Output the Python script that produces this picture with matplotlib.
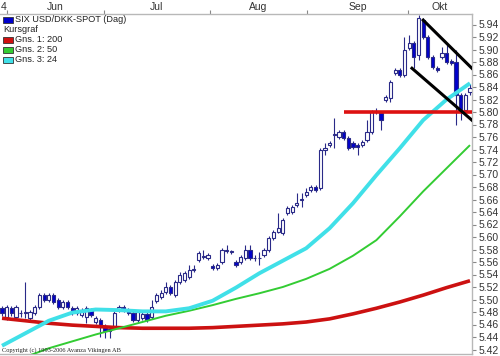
import matplotlib
matplotlib.use("Agg")
import matplotlib.pyplot as plt
from matplotlib.patches import Rectangle
import numpy as np

# ---------------- data ----------------
opens = [5.486, 5.472, 5.486, 5.472, 5.478, 5.478, 5.470, 5.478, 5.488, 5.507,
         5.499, 5.507, 5.499, 5.488, 5.496, 5.486, 5.478, 5.475, 5.472, 5.483,
         5.464, 5.467, 5.458, 5.450, 5.456, 5.483, 5.488, 5.483, 5.478, 5.467,
         5.470, 5.477, 5.472, 5.498, 5.504, 5.512, 5.520, 5.507, 5.528, 5.531,
         5.536, 5.547, 5.563, 5.568, 5.566, 5.554, 5.550, 5.560, 5.578, 5.576,
         5.560, 5.560, 5.566, 5.579, 5.566, 5.566, 5.571, 5.579, 5.598, 5.608,
         5.606, 5.638, 5.640, 5.651, 5.659, 5.667, 5.675, 5.680, 5.678, 5.739,
         5.747, 5.763, 5.760, 5.768, 5.758, 5.750, 5.747, 5.747, 5.755, 5.768,
         5.800, 5.798, 5.819, 5.822, 5.862, 5.867, 5.859, 5.902, 5.910, 5.891,
         5.947, 5.920, 5.888, 5.870, 5.888, 5.894, 5.882, 5.880, 5.827, 5.803,
         5.832]
closes = [5.478, 5.488, 5.478, 5.488, 5.478, 5.480, 5.480, 5.488, 5.507, 5.499,
          5.507, 5.496, 5.488, 5.496, 5.488, 5.478, 5.486, 5.483, 5.486, 5.475,
          5.470, 5.456, 5.450, 5.453, 5.478, 5.488, 5.483, 5.478, 5.467, 5.480,
          5.477, 5.467, 5.488, 5.507, 5.510, 5.520, 5.510, 5.528, 5.539, 5.542,
          5.547, 5.549, 5.574, 5.570, 5.571, 5.550, 5.555, 5.579, 5.579, 5.576,
          5.555, 5.568, 5.579, 5.566, 5.567, 5.567, 5.579, 5.598, 5.608, 5.614,
          5.627, 5.646, 5.648, 5.654, 5.661, 5.672, 5.680, 5.675, 5.739, 5.742,
          5.750, 5.763, 5.768, 5.758, 5.742, 5.744, 5.744, 5.752, 5.768, 5.800,
          5.802, 5.787, 5.824, 5.848, 5.867, 5.859, 5.899, 5.910, 5.888, 5.950,
          5.920, 5.888, 5.872, 5.867, 5.894, 5.880, 5.878, 5.827, 5.803, 5.827,
          5.838]
highs = [5.490, 5.492, 5.490, 5.491, 5.484, 5.528, 5.483, 5.491, 5.510, 5.510,
         5.510, 5.510, 5.502, 5.499, 5.499, 5.490, 5.490, 5.486, 5.489, 5.486,
         5.474, 5.470, 5.461, 5.456, 5.481, 5.491, 5.491, 5.486, 5.481, 5.483,
         5.480, 5.480, 5.499, 5.510, 5.515, 5.528, 5.523, 5.531, 5.544, 5.546,
         5.555, 5.555, 5.577, 5.579, 5.574, 5.557, 5.558, 5.582, 5.587, 5.579,
         5.563, 5.571, 5.587, 5.587, 5.571, 5.576, 5.582, 5.601, 5.611, 5.638,
         5.630, 5.649, 5.651, 5.670, 5.670, 5.678, 5.683, 5.683, 5.742, 5.750,
         5.753, 5.790, 5.771, 5.771, 5.761, 5.753, 5.750, 5.755, 5.787, 5.803,
         5.806, 5.801, 5.827, 5.851, 5.870, 5.870, 5.920, 5.923, 5.913, 5.955,
         5.950, 5.923, 5.891, 5.873, 5.904, 5.910, 5.885, 5.899, 5.830, 5.830,
         5.845]
lows = [5.474, 5.468, 5.474, 5.469, 5.472, 5.470, 5.466, 5.475, 5.485, 5.496,
        5.496, 5.493, 5.485, 5.485, 5.485, 5.475, 5.475, 5.472, 5.462, 5.472,
        5.461, 5.440, 5.438, 5.438, 5.453, 5.480, 5.480, 5.475, 5.464, 5.464,
        5.467, 5.464, 5.469, 5.495, 5.501, 5.509, 5.507, 5.504, 5.525, 5.528,
        5.533, 5.544, 5.560, 5.565, 5.563, 5.547, 5.547, 5.557, 5.575, 5.573,
        5.552, 5.557, 5.563, 5.563, 5.562, 5.555, 5.568, 5.576, 5.595, 5.606,
        5.603, 5.635, 5.637, 5.648, 5.648, 5.664, 5.672, 5.672, 5.675, 5.731,
        5.744, 5.742, 5.757, 5.755, 5.739, 5.741, 5.731, 5.744, 5.752, 5.765,
        5.797, 5.771, 5.816, 5.816, 5.859, 5.856, 5.856, 5.899, 5.870, 5.883,
        5.917, 5.885, 5.869, 5.864, 5.885, 5.877, 5.875, 5.780, 5.787, 5.800,
        5.827]

# moving averages, sampled every 5 trading days
ma_days = list(range(0, 101, 5))
ma200 = [5.470, 5.466, 5.462, 5.459, 5.457, 5.455, 5.454, 5.454, 5.454, 5.455,
         5.457, 5.459, 5.461, 5.464, 5.469, 5.477, 5.486, 5.496, 5.507, 5.519, 5.530]
ma50 = [5.395, 5.408, 5.422, 5.433, 5.444, 5.454, 5.464, 5.474, 5.482, 5.491,
        5.501, 5.510, 5.520, 5.533, 5.549, 5.570, 5.595, 5.633, 5.673, 5.710, 5.747]
ma24 = [5.426, 5.446, 5.466, 5.479, 5.484, 5.483, 5.481, 5.481, 5.486, 5.498,
        5.519, 5.542, 5.562, 5.582, 5.614, 5.654, 5.699, 5.742, 5.787, 5.820, 5.846]

support_level = 5.80
support_start = 73

chan_upper_days = [90.0, 100.4]
chan_upper = [5.947, 5.870]
chan_lower_days = [87.6, 100.4]
chan_lower = [5.870, 5.787]

month_bounds = [1.07, 21.8, 44.4, 65.2, 86.8]
month_labels = ["4", "Jun", "Jul", "Aug", "Sep", "Okt"]
y_ticks = [round(5.42 + 0.02 * k, 2) for k in range(27)]

legend_items = [("SIX USD/DKK-SPOT (Dag)", "#0000cc"),
                ("Kursgraf", None),
                ("Gns. 1: 200", "#d01010"),
                ("Gns. 2: 50", "#33cc33"),
                ("Gns. 3: 24", "#40e0e8")]

# ---------------- figure ----------------
W, H = 500, 356
fig = plt.figure(figsize=(W / 100, H / 100), dpi=100)
ax = fig.add_axes([0, 2 / H, 472 / W, (354 - 14) / H])
xlim = (-0.43, 100.43)
ax.set_xlim(*xlim)
ax.set_ylim(5.4128, 5.9568)

font = "Liberation Sans"
edge = "#2a2a88"
days = np.arange(len(opens))
o = np.array(opens); c = np.array(closes)
hi = np.array(highs); lo = np.array(lows)
up = c >= o
ax.vlines(days, lo, hi, color=edge, lw=0.8, zorder=2)
bottoms = np.minimum(o, c)
heights = np.maximum(np.abs(c - o), 0.0012)
ax.bar(days[up], heights[up], bottom=bottoms[up], width=0.68,
       facecolor="white", edgecolor=edge, linewidth=0.8, zorder=3)
ax.bar(days[~up], heights[~up], bottom=bottoms[~up], width=0.68,
       facecolor="#0000cc", edgecolor=edge, linewidth=0.8, zorder=3)

kw = dict(solid_joinstyle="round", solid_capstyle="butt", zorder=4)
ax.plot(ma_days, ma200, color="#cc1111", lw=2.6, **kw)
ax.plot(ma_days, ma50, color="#33cc33", lw=1.4, **kw)
ax.plot(ma_days, ma24, color="#40e0e8", lw=2.8, **kw)
ax.plot([support_start, xlim[1]], [support_level, support_level],
        color="#dd1111", lw=2.6, zorder=5, solid_capstyle="butt")
ax.plot(chan_upper_days, chan_upper, color="black", lw=2.2, zorder=6)
ax.plot(chan_lower_days, chan_lower, color="black", lw=2.2, zorder=6)

# axes styling
ax.spines["left"].set_visible(False)
for s in ["top", "right", "bottom"]:
    ax.spines[s].set_color("#b8b8b8")
    ax.spines[s].set_linewidth(1.0)

ax.yaxis.tick_right()
ax.set_yticks(y_ticks)
ax.set_yticklabels([f"{v:.2f}" for v in y_ticks], fontsize=7.5,
                   fontfamily=font, color="#333333")
ax.tick_params(axis="y", length=3, width=0.8, color="#888888", pad=2)

ax.xaxis.tick_top()
ax.set_xticks(month_bounds)
ax.set_xticklabels([])
ax.tick_params(axis="x", which="major", length=3, width=0.8, color="#888888")
edges = [xlim[0]] + month_bounds + [xlim[1]]
mids = [(edges[k] + edges[k + 1]) / 2 for k in range(len(edges) - 1)]
ax.set_xticks(mids, minor=True)
ax.set_xticklabels(month_labels, minor=True, fontsize=7.5, fontfamily=font,
                   color="#333333")
ax.tick_params(axis="x", which="minor", length=0, pad=1.5)

# legend (top-left, in pixel positions)
for k, (label, col) in enumerate(legend_items):
    yc = 1 - (20 + 10 * k) / H
    if col is not None:
        fig.patches.append(Rectangle((3 / W, yc - 3 / H), 10 / W, 6 / H,
                                     transform=fig.transFigure,
                                     facecolor=col, edgecolor="#333333",
                                     linewidth=0.6, zorder=10))
        x0 = 15 / W
    else:
        x0 = 3 / W
    fig.text(x0, yc, label, fontsize=6.6, fontfamily=font, color="#222222",
             va="center", ha="left", zorder=10)

fig.text(2 / W, 1 - 350 / H, "Copyright (c) 1993-2006 Avanza Vikingen AB",
         fontsize=4.6, fontfamily="Liberation Serif", color="#222222",
         va="center", ha="left")

fig.savefig("out.png", dpi=100, facecolor="white")
